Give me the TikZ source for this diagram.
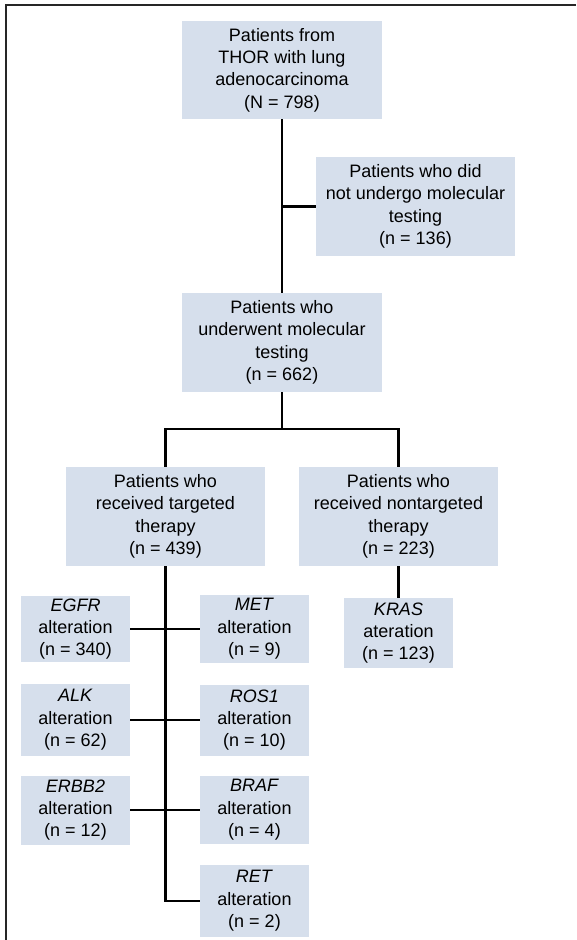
\documentclass[tikz,border=0pt]{standalone}
\usepackage{fontspec}
\setmainfont{Liberation Sans}
\definecolor{boxfill}{RGB}{214,223,236}
\tikzset{
  fbox/.style={rectangle, fill=boxfill, inner sep=0pt, align=center,
    font=\fontsize{18}{22.4}\selectfont},
  conn/.style={line width=2.3pt, black},
  frame/.style={line width=1.8pt, black!85}
}
\begin{document}
\begin{tikzpicture}[x=1pt,y=-1pt]
\useasboundingbox (0,0) rectangle (576,940);
\draw[frame] (576,5) -- (6,5) -- (6,940);
% level 0
\node[fbox, minimum width=200pt, minimum height=98pt] (top) at (282,70)
  {Patients from\\THOR with lung\\adenocarcinoma\\(N = 798)};
\node[fbox, minimum width=199pt, minimum height=99pt] (nott) at (415.5,206.5)
  {Patients who did\\not undergo molecular\\testing\\(n = 136)};
\node[fbox, minimum width=200pt, minimum height=99pt] (under) at (282,342.5)
  {Patients who\\underwent molecular\\testing\\(n = 662)};
\node[fbox, minimum width=199pt, minimum height=99pt] (targ) at (165.5,516.5)
  {Patients who\\received targeted\\therapy\\(n = 439)};
\node[fbox, minimum width=199pt, minimum height=99pt] (nont) at (398.5,516.5)
  {Patients who\\received nontargeted\\therapy\\(n = 223)};
\node[fbox, minimum width=109pt, minimum height=70pt] (kras) at (398.5,633)
  {\textit{KRAS}\\ateration\\(n = 123)};
% alterations left
\node[fbox, minimum width=109pt, minimum height=66pt] (egfr) at (75.5,629)
  {\textit{EGFR}\\alteration\\(n = 340)};
\node[fbox, minimum width=109pt, minimum height=72pt] (alk) at (75.5,720)
  {\textit{ALK}\\alteration\\(n = 62)};
\node[fbox, minimum width=109pt, minimum height=69pt] (erbb) at (75.5,810)
  {\textit{ERBB2}\\alteration\\(n = 12)};
% alterations right
\node[fbox, minimum width=109pt, minimum height=68pt] (met) at (254.5,629)
  {\textit{MET}\\alteration\\(n = 9)};
\node[fbox, minimum width=109pt, minimum height=71pt] (ros) at (254.5,720)
  {\textit{ROS1}\\alteration\\(n = 10)};
\node[fbox, minimum width=109pt, minimum height=68pt] (braf) at (254.5,810)
  {\textit{BRAF}\\alteration\\(n = 4)};
\node[fbox, minimum width=109pt, minimum height=72pt] (ret) at (254.5,901)
  {\textit{RET}\\alteration\\(n = 2)};
% connectors
\coordinate (j1) at (282,429);
\draw[conn] (top.south) -- (under.north);
\draw[conn] (top.south |- nott.west) -- (nott.west);
\draw[conn] (under.south) -- (j1);
\draw[conn] (targ.north) |- (j1) -| (nont.north);
\draw[conn] (nont.south) -- (kras.north);
\draw[conn] (targ.south) |- (ret.west);
\draw[conn] (egfr.east) -- (met.west);
\draw[conn] (alk.east) -- (ros.west);
\draw[conn] (erbb.east) -- (braf.west);
\end{tikzpicture}
\end{document}
